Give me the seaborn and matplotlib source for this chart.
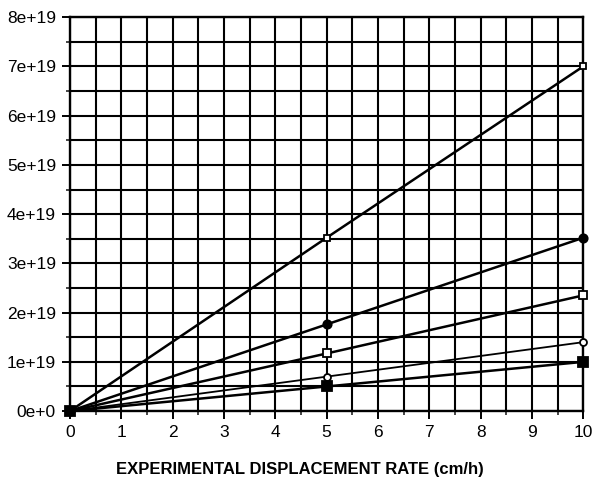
import matplotlib
matplotlib.use("Agg")
import matplotlib.pyplot as plt
import numpy as np
import pandas as pd
import seaborn as sns
from matplotlib.ticker import MultipleLocator, FuncFormatter

# data
rate = [0, 5, 10]
series_names = ["s1", "s2", "s3", "s4", "s5"]
s1 = [0.0, 3.52e19, 7.0e19]
s2 = [0.0, 1.76e19, 3.52e19]
s3 = [0.0, 1.17e19, 2.35e19]
s4 = [0.0, 0.70e19, 1.40e19]
s5 = [0.0, 0.50e19, 1.00e19]
x_label = "EXPERIMENTAL DISPLACEMENT RATE (cm/h)"

markers = {"s1": "s", "s2": "o", "s3": "s", "s4": "o", "s5": "s"}
facecolors = {"s1": "white", "s2": "black", "s3": "white", "s4": "white", "s5": "black"}
msizes = {"s1": 5, "s2": 6, "s3": 6, "s4": 5, "s5": 7}
widths = {"s1": 1.8, "s2": 1.8, "s3": 1.8, "s4": 1.3, "s5": 1.8}


def main() -> None:
	sns.set_style("ticks")
	plt.rcParams["font.family"] = ["Liberation Sans", "DejaVu Sans"]

	df = pd.DataFrame(
		{
			"rate": rate * 5,
			"value": s1 + s2 + s3 + s4 + s5,
			"series": [n for n in series_names for _ in rate],
		}
	)

	fig = plt.figure(figsize=(5.97, 4.9), dpi=100)
	ax = fig.add_axes([0.117, 0.161, 0.860, 0.804])

	for name in series_names:
		sub = df[df["series"] == name]
		sns.lineplot(
			data=sub,
			x="rate",
			y="value",
			color="black",
			linewidth=widths[name],
			marker=markers[name],
			markersize=msizes[name],
			markerfacecolor=facecolors[name],
			markeredgecolor="black",
			markeredgewidth=1.3,
			ax=ax,
			zorder=5,
			clip_on=False,
		)

	ax.set_xlim(0, 10)
	ax.set_ylim(0, 8e19)
	ax.xaxis.set_major_locator(MultipleLocator(1))
	ax.xaxis.set_minor_locator(MultipleLocator(0.5))
	ax.yaxis.set_major_locator(MultipleLocator(1e19))
	ax.yaxis.set_minor_locator(MultipleLocator(0.5e19))

	def fmt(v, pos):
		if v == 0:
			return "0e+0"
		return f"{v / 1e19:.0f}e+19"

	ax.yaxis.set_major_formatter(FuncFormatter(fmt))

	ax.grid(which="both", color="black", linewidth=1.5)
	ax.set_axisbelow(True)
	for sp in ax.spines.values():
		sp.set_visible(True)
		sp.set_linewidth(1.7)
		sp.set_color("black")

	ax.tick_params(which="major", direction="out", length=6, width=1.4,
				   labelsize=12.5, pad=4, colors="black", labelcolor="black")
	ax.tick_params(which="minor", direction="out", length=3, width=1.2)

	ax.set_xlabel(x_label, fontsize=12, fontweight="bold", color="black")
	ax.xaxis.set_label_coords(0.448, -0.128)
	ax.set_ylabel("")

	fig.savefig("out.png", dpi=100)


if __name__ == "__main__":
	main()
